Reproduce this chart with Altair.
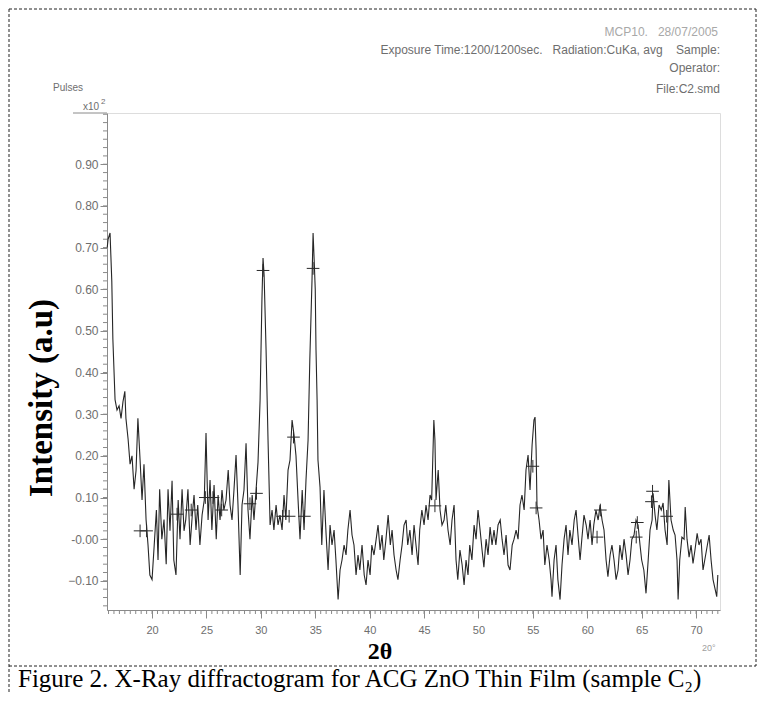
import altair as alt
import pandas as pd
import numpy as np

# ---- data (2-theta in degrees, intensity x10^2 pulses)
two_theta = [
    15.88, 15.96, 16.14, 16.30, 16.40, 16.60, 16.78, 16.97, 17.15, 17.33, 17.50,
    17.60, 17.80, 17.98, 18.16, 18.35, 18.53, 18.70, 18.90, 19.08, 19.26,
    19.45, 19.63, 19.80, 20.00, 20.20, 20.40, 20.55, 20.70, 20.90, 21.10,
    21.30, 21.47, 21.65, 21.84, 22.00, 22.20, 22.40, 22.57, 22.76, 22.94,
    23.10, 23.30, 23.50, 23.70, 23.86, 24.04, 24.20, 24.40, 24.60, 24.80,
    24.96, 25.15, 25.33, 25.50, 25.70, 25.90, 26.07, 26.25, 26.43, 26.60,
    26.80, 27.00, 27.17, 27.35, 27.53, 27.72, 27.90, 28.10, 28.27, 28.45,
    28.64, 28.82, 29.00, 29.20, 29.37, 29.56, 29.74, 29.93, 30.10, 30.20,
    30.30, 30.48, 30.66, 30.85, 31.03, 31.20, 31.40, 31.58, 31.76, 31.95,
    32.13, 32.30, 32.50, 32.68, 32.87, 33.05, 33.23, 33.42, 33.60, 33.80,
    33.97, 34.15, 34.34, 34.50, 34.70, 34.80, 34.90, 35.00, 35.07, 35.17,
    35.25, 35.44, 35.60, 35.80, 36.00, 36.18, 36.36, 36.54, 36.73, 36.90,
    37.10, 37.28, 37.46, 37.65, 37.83, 38.00, 38.20, 38.38, 38.56, 38.75,
    38.93, 39.10, 39.30, 39.50, 39.67, 39.85, 40.04, 40.20, 40.40, 40.60,
    40.77, 40.96, 41.14, 41.30, 41.50, 41.70, 41.90, 42.06, 42.24, 42.43,
    42.60, 42.80, 42.98, 43.16, 43.35, 43.50, 43.70, 43.90, 44.08, 44.26,
    44.45, 44.60, 44.80, 45.00, 45.18, 45.37, 45.55, 45.70, 45.90, 46.00,
    46.10, 46.30, 46.47, 46.65, 46.84, 47.00, 47.20, 47.40, 47.57, 47.76,
    47.94, 48.10, 48.30, 48.50, 48.68, 48.86, 49.04, 49.20, 49.40, 49.60,
    49.78, 49.96, 50.15, 50.33, 50.50, 50.70, 50.88, 51.07, 51.25, 51.43,
    51.60, 51.80, 52.00, 52.17, 52.35, 52.54, 52.72, 52.90, 53.10, 53.27,
    53.46, 53.64, 53.82, 54.00, 54.20, 54.37, 54.56, 54.74, 54.93, 55.10,
    55.20, 55.30, 55.38, 55.57, 55.75, 55.94, 56.10, 56.30, 56.50, 56.67,
    56.76, 56.95, 57.13, 57.30, 57.50, 57.68, 57.87, 58.05, 58.23, 58.40,
    58.60, 58.80, 58.97, 59.15, 59.34, 59.50, 59.70, 59.90, 60.07, 60.26,
    60.44, 60.60, 60.80, 61.00, 61.18, 61.36, 61.54, 61.73, 61.90, 62.10,
    62.27, 62.46, 62.65, 62.83, 63.00, 63.20, 63.38, 63.57, 63.75, 63.93,
    64.10, 64.30, 64.48, 64.67, 64.85, 65.00, 65.20, 65.40, 65.60, 65.77,
    65.96, 66.05, 66.23, 66.40, 66.60, 66.80, 66.97, 67.15, 67.34, 67.50,
    67.70, 67.90, 68.07, 68.25, 68.35, 68.50, 68.70, 68.90, 69.00, 69.17,
    69.36, 69.54, 69.72, 69.90, 70.10, 70.27, 70.46, 70.64, 70.80, 71.00,
    71.20, 71.38, 71.56, 71.75, 71.90, 72.00,
]
intensity = [
    0.70, 0.72, 0.735, 0.62, 0.48, 0.335, 0.31, 0.32, 0.29, 0.33, 0.355,
    0.29, 0.24, 0.18, 0.20, 0.12, 0.165, 0.29, 0.19, 0.094, 0.18,
    0.047, -0.014, -0.086, -0.097, -0.014, 0.07, -0.05, 0.12, 0.0, 0.047,
    -0.06, 0.12, 0.02, 0.14, -0.05, -0.086, 0.094, 0.0, 0.12, 0.02,
    0.047, 0.12, -0.014, 0.058, 0.106, 0.022, 0.082, -0.014, 0.058, 0.094,
    0.255, 0.046, 0.142, 0.022, 0.13, 0.0, 0.106, 0.046, 0.118, 0.07,
    0.094, 0.166, 0.082, 0.046, 0.118, 0.202, 0.082, -0.086, 0.082, 0.118,
    0.23, 0.07, 0.0, 0.106, 0.046, 0.118, 0.185, 0.334, 0.575, 0.675,
    0.634, 0.454, 0.238, 0.034, 0.07, 0.022, 0.082, 0.034, 0.058, 0.022,
    0.106, 0.046, 0.166, 0.19, 0.286, 0.25, 0.20, 0.094, 0.0, 0.118,
    0.022, 0.142, 0.238, 0.43, 0.62, 0.735, 0.67, 0.60, 0.454, 0.334,
    0.19, 0.125, -0.014, 0.118, 0.01, -0.074, 0.034, -0.014, 0.022, -0.05,
    -0.145, -0.074, -0.05, -0.014, -0.038, 0.022, 0.07, 0.01, -0.014, -0.086,
    -0.038, -0.074, -0.014, -0.086, -0.11, -0.05, -0.086, -0.014, -0.038, 0.0,
    0.034, -0.026, 0.01, -0.05, 0.0, 0.058, -0.014, 0.022, -0.038, -0.074,
    -0.097, -0.05, -0.014, 0.034, 0.046, -0.014, 0.022, -0.038, 0.034, -0.014,
    -0.062, 0.022, 0.07, 0.034, 0.082, 0.046, 0.106, 0.094, 0.286, 0.238,
    0.094, 0.166, 0.07, 0.034, 0.046, 0.082, 0.022, -0.014, 0.046, 0.082,
    -0.05, -0.097, -0.026, -0.062, -0.11, -0.05, -0.086, -0.014, -0.05, 0.034,
    0.0, 0.07, 0.022, -0.026, -0.067, 0.0, -0.038, 0.029, -0.014, 0.022,
    -0.014, 0.034, 0.046, 0.0, -0.038, 0.01, -0.062, -0.074, -0.014, 0.0,
    0.022, 0.0, 0.082, 0.106, 0.07, 0.166, 0.202, 0.118, 0.226, 0.286,
    0.293, 0.214, 0.082, 0.046, 0.0, 0.022, -0.062, -0.014, -0.05, -0.097,
    -0.138, -0.05, -0.014, -0.097, -0.145, -0.062, 0.0, 0.034, -0.038, 0.022,
    -0.014, 0.046, 0.07, 0.01, -0.05, 0.0, 0.058, 0.034, 0.0, 0.046,
    -0.014, 0.034, 0.07, 0.046, 0.082, 0.046, 0.022, -0.05, -0.09, -0.038,
    -0.014, -0.05, -0.097, -0.074, -0.014, -0.05, 0.0, -0.038, -0.086, -0.05,
    0.0, 0.01, 0.046, 0.034, -0.014, -0.05, -0.074, -0.13, -0.05, 0.022,
    0.046, 0.11, 0.058, 0.022, 0.082, 0.07, 0.087, 0.022, -0.014, 0.142,
    0.046, 0.022, 0.01, -0.05, -0.145, -0.05, 0.005, 0.0, 0.077, 0.0,
    -0.043, -0.014, -0.058, -0.026, 0.014, -0.014, 0.0, -0.074, -0.05, -0.02,
    0.01, -0.05, -0.097, -0.12, -0.138, -0.086,
]

# peak-search markers (+)
peak_x = [18.9, 19.5, 22.3, 23.6, 24.9, 25.6, 26.4, 29.0, 29.6, 30.2, 32.0,
          33.0, 32.6, 34.0, 34.8, 46.0, 55.0, 55.3, 60.9, 61.2, 64.5, 64.6,
          65.9, 66.0, 67.3]
peak_y = [0.02, 0.02, 0.06, 0.07, 0.10, 0.10, 0.07, 0.085, 0.11, 0.645, 0.055,
          0.245, 0.055, 0.055, 0.65, 0.08, 0.175, 0.075, 0.005, 0.07, 0.005, 0.04,
          0.09, 0.115, 0.055]

x_major = [20, 25, 30, 35, 40, 45, 50, 55, 60, 65, 70]
y_major = [-0.1, 0.0, 0.1, 0.2, 0.3, 0.4, 0.5, 0.6, 0.7, 0.8, 0.9]
x_minor = [round(v, 2) for v in np.arange(16.0, 72.01, 0.5)]
y_minor = [round(v, 3) for v in np.arange(-0.16, 1.021, 0.02)]

NB = "\u00a0"
header_lines = ["MCP10." + NB * 3 + "28/07/2005",
                "Exposure Time:1200/1200sec." + NB * 3 + "Radiation:CuKa, avg" + NB * 4 + "Sample:",
                "Operator:",
                "File:C2.smd"]

W, H = 613, 497
X_DOMAIN = [15.86, 72.2]
Y_DOMAIN = [-0.17, 1.023]
AX = "#8a8a8a"
LAB = "#6e6e6e"
SANS = "Liberation Sans"
SERIF = "Liberation Serif"

xs = alt.Scale(domain=X_DOMAIN, nice=False, zero=False)
ys = alt.Scale(domain=Y_DOMAIN, nice=False, zero=False)

df = pd.DataFrame({"t": two_theta, "i": intensity})
pk = pd.DataFrame({"t": peak_x, "i": peak_y})

line = alt.Chart(df).mark_line(color="#262626", strokeWidth=1.1).encode(
    x=alt.X("t:Q", scale=xs, axis=alt.Axis(
        values=x_major, title=None, grid=False, tickSize=8, tickColor=AX,
        domainColor=AX, labelColor=LAB, labelFont=SANS, labelFontSize=11,
        labelPadding=6, format="d")),
    y=alt.Y("i:Q", scale=ys, axis=alt.Axis(
        values=y_major, title=None, grid=False, tickSize=7, tickColor=AX,
        domainColor=AX, labelColor=LAB, labelFont=SANS, labelFontSize=12,
        labelPadding=2,
        labelExpr="abs(datum.value) < 1e-9 ? '-0.00' : format(datum.value, '.2f')")),
)

peaks = alt.Chart(pk).mark_point(
    shape="M-1,0L1,0M0,-1L0,1", size=160, filled=False, color="#2a2a2a",
    strokeWidth=1, opacity=1,
).encode(x=alt.X("t:Q", scale=xs), y=alt.Y("i:Q", scale=ys))

xminor = alt.Chart(pd.DataFrame({"v": x_minor})).mark_rule(color=AX, strokeWidth=1).encode(
    x=alt.X("v:Q", scale=xs), y=alt.value(H), y2=alt.value(H + 4))
yminor = alt.Chart(pd.DataFrame({"v": y_minor})).mark_rule(color=AX, strokeWidth=1).encode(
    y=alt.Y("v:Q", scale=ys), x=alt.value(-4), x2=alt.value(0))

one = pd.DataFrame({"a": [0]})


def rule(x1, x2, y1, y2, color=AX, dash=None, width=1):
    kw = dict(color=color, strokeWidth=width)
    if dash:
        kw["strokeDash"] = dash
    return alt.Chart(one).mark_rule(**kw).encode(
        x=alt.value(x1), x2=alt.value(x2), y=alt.value(y1), y2=alt.value(y2))


def text(s, x, y, size=11, color=LAB, font=SANS, align="left", weight="normal",
         angle=0, baseline="middle"):
    kw = dict(text=s, fontSize=size, color=color, font=font, align=align,
              fontWeight=weight, baseline=baseline)
    if angle:
        kw["angle"] = angle
    return alt.Chart(one).mark_text(**kw).encode(x=alt.value(x), y=alt.value(y))


top_tick = rule(-34, 0, 0, 0)
DASH = [3, 2]
layers = [xminor, yminor, line, peaks, top_tick,
          text("x10", -8, -6, size=10, align="right"),
          text("2", -6, -11, size=8, align="left"),
          text("Pulses", -54, -25, size=10),
          text(header_lines[0], 611, -81, size=12, color="#a8a8a8", align="right"),
          text(header_lines[1], 613, -63, size=12, align="right"),
          text(header_lines[2], 613, -45, size=12, align="right"),
          text(header_lines[3], 613, -24, size=12, align="right"),
          text("20°", 595, 535, size=9, color="#a0a0a0"),
          text("Intensity (a.u)", -65, 285, size=33, color="#000", font=SERIF,
               weight="bold", align="center", angle=270),
          text("2θ", 273, 539, size=24, color="#000", font=SERIF, weight="bold",
               align="center"),
          text("Figure 2. X-Ray diffractogram for ACG ZnO Thin Film (sample C\u2082)",
               -89, 574, size=25, color="#000", font=SERIF, baseline="alphabetic"),
          # dashed figure border
          rule(-98, 649, -104, -104, color="#222", dash=DASH),
          rule(-98, -98, -104, 581, color="#222", dash=DASH),
          rule(649, 649, -104, 553, color="#222", dash=DASH),
          rule(-98, 649, 553, 553, color="#222", dash=DASH),
          ]

chart = alt.layer(*layers).properties(
    width=W, height=H,
    padding={"left": 99, "top": 105, "right": 38, "bottom": 84},
    autosize=alt.AutoSizeParams(type="none"),
).configure_view(stroke=AX, strokeWidth=1).configure(background="white")

chart.save("out.html", embed_options={"renderer": "svg", "actions": False})
